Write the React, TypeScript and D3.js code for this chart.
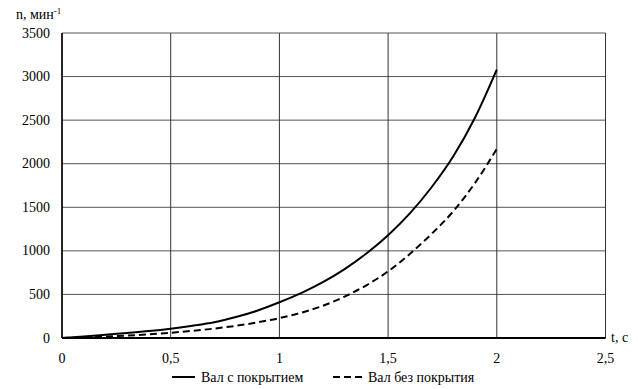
import React from "react";
import * as d3 from "d3";

const tValues = [0, 0.1, 0.2, 0.3, 0.4, 0.5, 0.6, 0.7, 0.8, 0.9, 1.0, 1.1, 1.2, 1.3, 1.4, 1.5, 1.6, 1.7, 1.8, 1.9, 2.0];
const coatedValues = [0, 18, 38, 58, 80, 107, 140, 180, 240, 315, 410, 515, 640, 790, 970, 1180, 1430, 1730, 2085, 2530, 3080];
const uncoatedValues = [0, 8, 18, 28, 42, 60, 82, 108, 140, 180, 228, 290, 370, 475, 605, 765, 965, 1195, 1455, 1780, 2170];
const xTicks = [0, 0.5, 1, 1.5, 2, 2.5];
const xTickLabels = ["0", "0,5", "1", "1,5", "2", "2,5"];
const yTicks = [0, 500, 1000, 1500, 2000, 2500, 3000, 3500];
const seriesNames = ["Вал с покрытием", "Вал без покрытия"];

const W = 638;
const H = 389;
const M = { left: 62, right: 605.5, top: 33, bottom: 338 };
const FF = "Liberation Serif";
const FS = 14;

export default function App() {
  const x = d3.scaleLinear().domain([0, 2.5]).range([M.left, M.right]);
  const y = d3.scaleLinear().domain([0, 3500]).range([M.bottom, M.top]);
  const line = d3
    .line<number>()
    .x((_, i) => x(tValues[i]))
    .y((d) => y(d))
    .curve(d3.curveMonotoneX);

  return (
    <svg width={W} height={H} style={{ position: "absolute", left: 0, top: 0 }}>
      <rect x={0} y={0} width={W} height={H} fill="#fff" />
      {yTicks.map((v) => (
        <line key={"h" + v} x1={M.left} x2={M.right} y1={y(v)} y2={y(v)} stroke="#555" strokeWidth={1} />
      ))}
      {xTicks.map((v) => (
        <line key={"v" + v} x1={x(v)} x2={x(v)} y1={M.top} y2={M.bottom} stroke="#333" strokeWidth={1} />
      ))}
      <line x1={M.left} x2={M.left} y1={M.top} y2={M.bottom} stroke="#000" strokeWidth={1.5} />
      <line x1={M.left} x2={M.right} y1={M.bottom} y2={M.bottom} stroke="#000" strokeWidth={2} />

      <g fontFamily={FF} fontSize={FS} fill="#000">
        {yTicks.map((v) => (
          <text key={"yl" + v} x={50} y={y(v) + 4.5} textAnchor="end">
            {v}
          </text>
        ))}
        {xTicks.map((v, i) => (
          <text key={"xl" + v} x={x(v)} y={363} textAnchor="middle">
            {xTickLabels[i]}
          </text>
        ))}
        <text x={16} y={19}>
          n, мин
          <tspan dy={-5} fontSize={9}>-1</tspan>
        </text>
        <text x={611} y={342}>t, с</text>
        <text x={201} y={382}>{seriesNames[0]}</text>
        <text x={368} y={382}>{seriesNames[1]}</text>
      </g>

      <path d={line(coatedValues) || ""} fill="none" stroke="#000" strokeWidth={2} />
      <path d={line(uncoatedValues) || ""} fill="none" stroke="#000" strokeWidth={2} strokeDasharray="7,4" />

      <line x1={172} x2={195} y1={377} y2={377} stroke="#000" strokeWidth={2} />
      <line x1={333} x2={362} y1={377} y2={377} stroke="#000" strokeWidth={2} strokeDasharray="7,4" />
    </svg>
  );
}
